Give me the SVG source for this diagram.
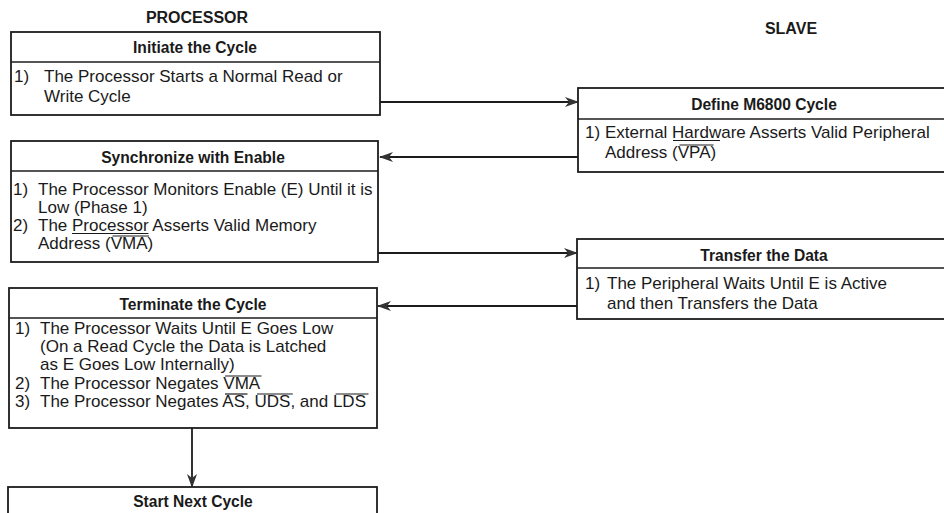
<svg xmlns="http://www.w3.org/2000/svg" width="944" height="513" viewBox="0 0 944 513">
<defs>
<style>
.box{fill:none;stroke:#1c1c1c;stroke-width:1.8}
.div{stroke:#1c1c1c;stroke-width:1.6}
.bar{stroke:#1a1a1a;stroke-width:1.2}
.hd{font-family:"Liberation Sans",Arial,sans-serif;font-weight:bold;font-size:15.6px;fill:#1a1a1a;text-anchor:middle}
.tt{font-family:"Liberation Sans",Arial,sans-serif;font-weight:bold;font-size:16px;fill:#1a1a1a;text-anchor:middle}
.tx{font-family:"Liberation Sans",Arial,sans-serif;font-size:17px;fill:#1a1a1a}
.cn{stroke:#1c1c1c;stroke-width:1.8;fill:none;marker-end:url(#ah)}
</style>
<marker id="ah" viewBox="0 0 14 10" refX="13" refY="5" markerWidth="14" markerHeight="10" markerUnits="userSpaceOnUse" orient="auto">
<path d="M0,0 L14,5 L0,10 L4,5 Z" fill="#333"/>
</marker>
</defs>
<rect width="944" height="513" fill="#fff"/>
<text class="tt" x="197" y="23">PROCESSOR</text>
<text class="tt" x="791" y="34">SLAVE</text>

<g id="initiate">
<rect class="box" x="11" y="32" width="369" height="83"/>
<line class="div" x1="11" y1="62" x2="380" y2="62"/>
<text class="hd" x="195" y="53">Initiate the Cycle</text>
<text class="tx" x="14" y="82">1)</text>
<text class="tx" x="44" y="82">The Processor Starts a Normal Read or</text>
<text class="tx" x="44" y="102">Write Cycle</text>
</g>

<g id="define">
<rect class="box" x="578" y="88" width="380" height="84"/>
<line class="div" x1="578" y1="119" x2="944" y2="119"/>
<text class="hd" x="764" y="110">Define M6800 Cycle</text>
<text class="tx" x="585" y="138">1)</text>
<text class="tx" x="605" y="138">External Hardware Asserts Valid Peripheral</text>
<line class="bar" x1="673" y1="140.5" x2="720" y2="140.5"/>
<text class="tx" x="605" y="158">Address (VPA)</text>
<line class="bar" x1="679.5" y1="145" x2="713.5" y2="145"/>
</g>

<g id="synchronize">
<rect class="box" x="11" y="141" width="367" height="121"/>
<line class="div" x1="11" y1="171" x2="378" y2="171"/>
<text class="hd" x="193" y="163">Synchronize with Enable</text>
<text class="tx" x="13" y="195">1)</text>
<text class="tx" x="38" y="195">The Processor Monitors Enable (E) Until it is</text>
<text class="tx" x="38" y="213">Low (Phase 1)</text>
<text class="tx" x="13" y="231">2)</text>
<text class="tx" x="38" y="231">The Processor Asserts Valid Memory</text>
<line class="bar" x1="72" y1="233.5" x2="148.5" y2="233.5"/>
<text class="tx" x="38" y="249">Address (VMA)</text>
<line class="bar" x1="112.5" y1="236" x2="149" y2="236"/>
</g>

<g id="transfer">
<rect class="box" x="577" y="239" width="380" height="80"/>
<line class="div" x1="577" y1="268" x2="944" y2="268"/>
<text class="hd" x="764" y="261">Transfer the Data</text>
<text class="tx" x="585" y="289">1)</text>
<text class="tx" x="607" y="289">The Peripheral Waits Until E is Active</text>
<text class="tx" x="607" y="309">and then Transfers the Data</text>
</g>

<g id="terminate">
<rect class="box" x="9" y="288" width="368" height="140"/>
<line class="div" x1="9" y1="318" x2="377" y2="318"/>
<text class="hd" x="193" y="310">Terminate the Cycle</text>
<text class="tx" x="15" y="334">1)</text>
<text class="tx" x="40" y="334">The Processor Waits Until E Goes Low</text>
<text class="tx" x="40" y="352">(On a Read Cycle the Data is Latched</text>
<text class="tx" x="40" y="370">as E Goes Low Internally)</text>
<text class="tx" x="15" y="389">2)</text>
<text class="tx" x="40" y="389">The Processor Negates VMA</text>
<line class="bar" x1="225" y1="376" x2="261.5" y2="376"/>
<text class="tx" x="15" y="407">3)</text>
<text class="tx" x="40" y="407">The Processor Negates AS, UDS, and LDS</text>
<line class="bar" x1="225" y1="394" x2="247.5" y2="394"/>
<line class="bar" x1="257" y1="394" x2="292.8" y2="394"/>
<line class="bar" x1="335.5" y1="394" x2="368.5" y2="394"/>
</g>

<g id="start">
<rect class="box" x="8" y="487" width="369" height="40"/>
<text class="hd" x="193" y="507">Start Next Cycle</text>
</g>

<g id="connectors">
<line class="cn" x1="380" y1="102" x2="578" y2="102"/>
<line class="cn" x1="578" y1="157" x2="380" y2="157"/>
<line class="cn" x1="378" y1="253" x2="577" y2="253"/>
<line class="cn" x1="577" y1="306" x2="378" y2="306"/>
<line class="cn" x1="192" y1="428" x2="192" y2="487"/>
</g>
</svg>
